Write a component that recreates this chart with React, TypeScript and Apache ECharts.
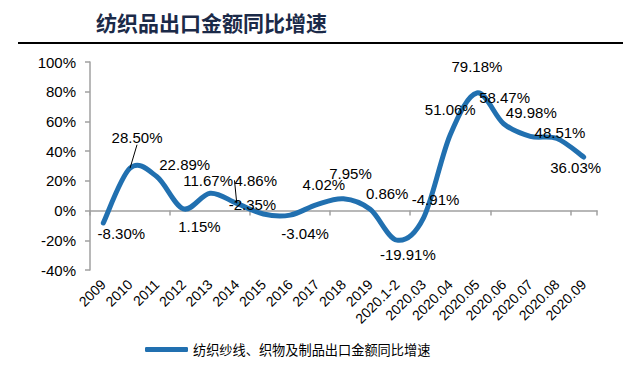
import React, { useEffect, useRef } from "react";
import * as echarts from "echarts";

const TITLE = "纺织品出口金额同比增速";
const SERIES_NAME = "纺织纱线、织物及制品出口金额同比增速";
const CATEGORIES = [
  "2009", "2010", "2011", "2012", "2013", "2014", "2015", "2016", "2017", "2018", "2019",
  "2020.1-2", "2020.03", "2020.04", "2020.05", "2020.06", "2020.07", "2020.08", "2020.09",
];
const VALUES = [
  -8.3, 28.5, 22.89, 1.15, 11.67, 4.86, -2.35, -3.04, 4.02, 7.95, 0.86,
  -19.91, -4.91, 51.06, 79.18, 58.47, 49.98, 48.51, 36.03,
];
const Y_MIN = -40;
const Y_MAX = 100;
const Y_STEP = 20;

// label offsets (px) relative to the point, for layout only
const LABEL_OFFSETS: [number, number][] = [
  [18, 11], [7, -31], [28, -12], [16, 18], [-2, -13], [19, -23], [-11, -10], [15, 18],
  [7, -20], [7, -25], [17, -16], [11, 14], [12, -18], [0, -25], [0, -26], [1, -26],
  [1, -24], [3, -6], [-8, 10],
];
const LEADER = [1, 5];

const BLUE = "#2170b0";
const FONT = "'Liberation Sans', Arial, sans-serif";
const CJK = "'Noto Sans CJK SC', sans-serif";

function curvePath(pts: number[][]): string {
  // Catmull-Rom spline converted to cubic Bezier segments
  let d = `M${pts[0][0]},${pts[0][1]}`;
  for (let i = 0; i < pts.length - 1; i++) {
    const p0 = pts[Math.max(0, i - 1)];
    const p1 = pts[i];
    const p2 = pts[i + 1];
    const p3 = pts[Math.min(pts.length - 1, i + 2)];
    const c1x = p1[0] + (p2[0] - p0[0]) / 6;
    const c1y = p1[1] + (p2[1] - p0[1]) / 6;
    const c2x = p2[0] - (p3[0] - p1[0]) / 6;
    const c2y = p2[1] - (p3[1] - p1[1]) / 6;
    d += ` C${c1x},${c1y} ${c2x},${c2y} ${p2[0]},${p2[1]}`;
  }
  return d;
}

export default function App() {
  const ref = useRef<HTMLDivElement>(null);
  useEffect(() => {
    document.body.style.margin = "0";
    const chart = echarts.init(ref.current!, null, { renderer: "svg" });
    const data = VALUES.map((v, i) => ({
      value: v,
      label: { show: true },
      labelLine: { show: LEADER.includes(i), lineStyle: { color: "#000", width: 1 } },
    }));
    chart.setOption({
      animation: false,
      backgroundColor: "#fff",
      graphic: [
        {
          type: "text",
          left: 96,
          top: 11,
          style: { text: TITLE, fill: "#1b2a48", font: `bold 21px ${CJK}` },
        },
        {
          type: "line",
          shape: { x1: 18, y1: 43, x2: 623, y2: 43 },
          style: { stroke: "#000", lineWidth: 2 },
        },
      ],
      legend: {
        left: 140,
        top: 338,
        itemWidth: 43,
        itemHeight: 5,
        icon: "roundRect",
        textStyle: { fontFamily: CJK, fontSize: 13.2, color: "#000" },
        data: [{ name: SERIES_NAME, itemStyle: { color: BLUE } }],
      },
      grid: { left: 90, right: 43, top: 62, bottom: 120, containLabel: false },
      xAxis: [
        {
          type: "category",
          data: CATEGORIES,
          position: "bottom",
          axisLine: { show: false, onZero: false },
          axisTick: { show: false },
          axisLabel: {
            rotate: 45,
            interval: 0,
            margin: 12,
            fontFamily: FONT,
            fontSize: 14,
            color: "#000",
          },
        },
        {
          type: "category",
          data: CATEGORIES,
          position: "bottom",
          axisLine: { show: true, onZero: true, lineStyle: { color: "#a0a0a0", width: 1.5 } },
          axisTick: { show: true, length: 5, lineStyle: { color: "#a0a0a0", width: 1.5 } },
          axisLabel: { show: false },
        },
      ],
      yAxis: {
        type: "value",
        min: Y_MIN,
        max: Y_MAX,
        interval: Y_STEP,
        splitLine: { show: false },
        axisLine: { show: true, lineStyle: { color: "#a0a0a0", width: 1.5 } },
        axisTick: { show: true, length: 5, lineStyle: { color: "#a0a0a0", width: 1.5 } },
        axisLabel: {
          formatter: "{value}%",
          fontFamily: FONT,
          fontSize: 15,
          color: "#000",
          margin: 14,
        },
      },
      series: [
        {
          name: "curve",
          type: "custom",
          xAxisIndex: 0,
          silent: true,
          data: [[0, VALUES[0]]],
          encode: { x: 0, y: 1 },
          renderItem: (params: any, api: any) => {
            const pts = VALUES.map((v, i) => api.coord([i, v]));
            return {
              type: "path",
              shape: { pathData: curvePath(pts) },
              style: {
                fill: "none",
                stroke: BLUE,
                lineWidth: 5,
                lineCap: "round",
                lineJoin: "round",
              },
            };
          },
          z: 2,
        },
        {
          name: SERIES_NAME,
          type: "line",
          xAxisIndex: 0,
          data,
          symbol: "circle",
          symbolSize: 0.1,
          showSymbol: true,
          itemStyle: { color: BLUE },
          lineStyle: { color: BLUE, width: 5, opacity: 0 },
          label: {
            show: true,
            position: "inside",
            formatter: (p: any) => p.value.toFixed(2) + "%",
            fontFamily: FONT,
            fontSize: 15,
            color: "#000",
          },
          labelLayout: (p: any) => {
            const o = LABEL_OFFSETS[p.dataIndex] || [0, 0];
            return { dx: o[0], dy: o[1] };
          },
          z: 3,
        },
      ],
    });
    return () => chart.dispose();
  }, []);
  return <div ref={ref} style={{ width: 640, height: 390 }} />;
}
